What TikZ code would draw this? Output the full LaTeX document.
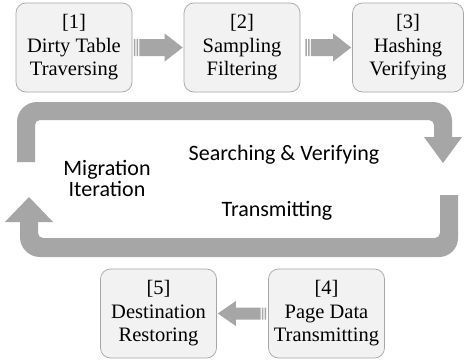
\documentclass[tikz,border=0pt]{standalone}
\usepackage{fontspec}
\newfontfamily\boxfont{Liberation Serif}
\newfontfamily\labelfont{Carlito}
\usetikzlibrary{calc}

\definecolor{arrowgray}{HTML}{A6A6A6}
\definecolor{boxfill}{HTML}{F2F2F2}
\definecolor{boxline}{HTML}{A6A6A6}

\tikzset{
  stepbox/.style={draw=boxline, line width=0.7pt, fill=boxfill, rounded corners=10pt,
    minimum height=89pt, inner sep=0pt, align=center,
    font=\boxfont\fontsize{20.5pt}{23.5pt}\selectfont},
  looplabel/.style={font=\labelfont\fontsize{22pt}{21pt}\selectfont, align=center, inner sep=0pt},
}

% striped block arrow from #1 to #2 (same height); #3 shaft half width, #4 head half width
\newcommand\stripedarrow[4]{%
  \fill[arrowgray] let \p1=(#1), \p2=(#2), \n1={ifthenelse(\x2>\x1,1,-1)} in
    (\x1, \y1-#3) rectangle ({\x1+\n1*1.5pt}, \y1+#3)
    ({\x1+\n1*2.8pt}, \y1-#3) rectangle ({\x1+\n1*4.3pt}, \y1+#3)
    ({\x1+\n1*5.6pt}, \y1-#3) -- ({\x2-\n1*18pt}, \y1-#3) -- ({\x2-\n1*18pt}, \y1-#4)
    -- (\x2, \y1) -- ({\x2-\n1*18pt}, \y1+#4) -- ({\x2-\n1*18pt}, \y1+#3)
    -- ({\x1+\n1*5.6pt}, \y1+#3) -- cycle;}

\begin{document}
\begin{tikzpicture}[x=1pt, y=-1pt]
\useasboundingbox[fill=white] (0,0) rectangle (465,362);

% pipeline steps
\node[stepbox, minimum width=116pt] (s1) at (74,47.5) {[1]\\Dirty Table\\Traversing};
\node[stepbox, minimum width=116pt] (s2) at (242,47.5) {[2]\\Sampling\\Filtering};
\node[stepbox, minimum width=111pt] (s3) at (408,47.5) {[3]\\Hashing\\Verifying};
\node[stepbox, minimum width=116pt] (s4) at (326.5,313.5) {[4]\\Page Data\\Transmitting};
\node[stepbox, minimum width=116pt] (s5) at (158.5,313.5) {[5]\\Destination\\Restoring};

\coordinate (a1s) at ($(s1.east)+(1.5pt,0)$);
\coordinate (a1e) at ($(s2.west)+(-1pt,0)$);
\coordinate (a2s) at ($(s2.east)+(5pt,0)$);
\coordinate (a2e) at ($(s3.west)+(-1pt,0)$);
\coordinate (a3s) at ($(s4.west)+(-2pt,0)$);
\coordinate (a3e) at ($(s5.east)+(1pt,0)$);

\stripedarrow{a1s}{a1e}{8.5pt}{14pt}
\stripedarrow{a2s}{a2e}{8.5pt}{14pt}
\stripedarrow{a3s}{a3e}{6pt}{12.5pt}

% upper U-turn arrow (left to right, then down)
\fill[arrowgray]
  (17,162) -- (17,122) arc[start angle=180, end angle=270, radius=20] -- (433,102)
  arc[start angle=-90, end angle=0, radius=19] -- (452,137) -- (462,137) -- (443,163)
  -- (424,137) -- (434,137) -- (434,125) arc[start angle=0, end angle=-90, radius=5]
  -- (40,120) arc[start angle=270, end angle=180, radius=5] -- (35,162) -- cycle;

% lower U-turn arrow (right to left, then up)
\fill[arrowgray]
  (458,195) -- (458,238) arc[start angle=0, end angle=90, radius=19] -- (40,257)
  arc[start angle=90, end angle=180, radius=20] -- (20,222) -- (5,222) -- (29,197)
  -- (53,222) -- (38,222) -- (38,233) arc[start angle=180, end angle=90, radius=5]
  -- (435,238) arc[start angle=90, end angle=0, radius=5] -- (440,195) -- cycle;

\node[looplabel] (sv) at (284,155) {Searching \& Verifying};
\node[looplabel] (mi) at (107,178) {Migration\\Iteration};
\node[looplabel] (tr) at (277,211) {Transmitting};
\end{tikzpicture}
\end{document}
